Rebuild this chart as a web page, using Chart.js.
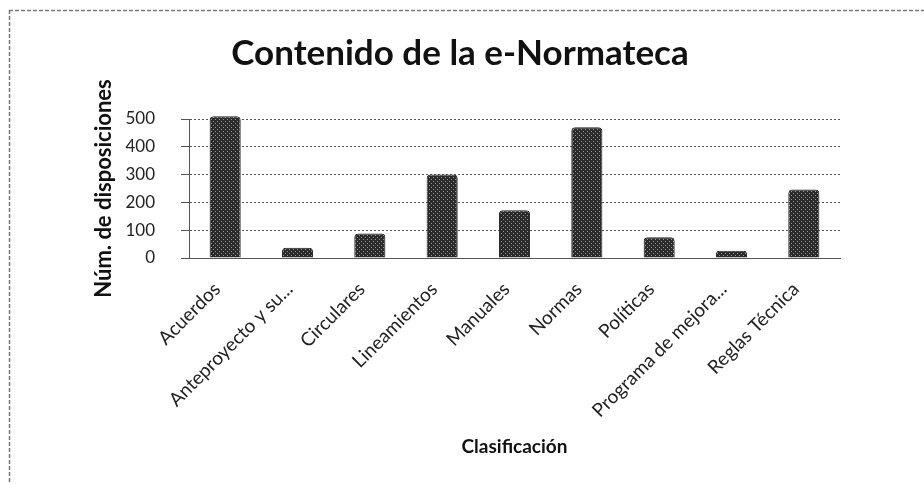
<!DOCTYPE html>
<html>
<head>
<meta charset="utf-8">
<script src="https://cdn.jsdelivr.net/npm/chart.js@4.4.1/dist/chart.umd.min.js"></script>
<style>
  body { margin: 0; background: #fff; }
  #wrap { position: relative; width: 924px; height: 484px; }
</style>
</head>
<body>
<div id="wrap"><canvas id="myChart"></canvas></div>
<script>
// data
const categories = ['Acuerdos', 'Anteproyecto y su...', 'Circulares', 'Lineamientos', 'Manuales',
    'Normas', 'Políticas', 'Programa de mejora...', 'Reglas Técnica'];
const disposiciones = [510, 37, 88, 300, 172, 470, 75, 26, 246];
const yTicks = [0, 100, 200, 300, 400, 500];

// dithered dark fill, like the printed bars
function makePattern() {
    const p = document.createElement('canvas');
    p.width = 4; p.height = 4;
    const c = p.getContext('2d');
    c.fillStyle = '#2a2a2a';
    c.fillRect(0, 0, 4, 4);
    c.fillStyle = '#9a9a9a';
    c.fillRect(1, 1, 1, 1);
    c.fillRect(3, 3, 1, 1);
    return c.createPattern(p, 'repeat');
}

// dashed frame at top/left of the picture
const framePlugin = {
    id: 'frame',
    beforeDraw(chart) {
        const ctx = chart.ctx;
        ctx.save();
        ctx.strokeStyle = '#777';
        ctx.lineWidth = 1.5;
        ctx.setLineDash([4, 2]);
        ctx.beginPath();
        ctx.moveTo(9, 10.5);
        ctx.lineTo(924, 10.5);
        ctx.moveTo(9.5, 10);
        ctx.lineTo(9.5, 484);
        ctx.stroke();
        ctx.restore();
    }
};

const ctx = document.getElementById('myChart').getContext('2d');

const myChart = new Chart(ctx, {
    type: 'bar',
    data: {
        labels: categories,
        datasets: [{
            label: 'Núm. de disposiciones',
            data: disposiciones,
            backgroundColor: makePattern(),
            borderColor: '#222',
            borderWidth: 1,
            borderRadius: 4,
            barPercentage: 0.86,
            categoryPercentage: 0.5,
            clip: false
        }]
    },
    options: {
        responsive: true,
        maintainAspectRatio: false,
        animation: false,
        layout: { padding: { left: 80, right: 84, top: 14, bottom: 10 } },
        plugins: {
            legend: { display: false },
            tooltip: { enabled: false },
            title: {
                display: true,
                text: 'Contenido de la e-Normateca',
                color: '#111',
                font: { family: 'Lato', size: 35, weight: 'bold' },
                padding: { top: 19, bottom: 44 }
            }
        },
        scales: {
            x: {
                afterFit: (scale) => { scale.height = 216; },
                grid: { display: false, drawTicks: false },
                border: { color: '#555', dash: [2, 2] },
                ticks: {
                    color: '#222',
                    font: { family: 'Lato', size: 19 },
                    maxRotation: 45,
                    minRotation: 45,
                    autoSkip: false,
                    labelOffset: -8,
                    padding: 20
                },
                title: {
                    display: true,
                    text: 'Clasificación',
                    color: '#111',
                    font: { family: 'Lato', size: 19, weight: 'bold' },
                    padding: { top: 10, bottom: 16 }
                }
            },
            y: {
                min: 0,
                max: 500,
                afterBuildTicks: (axis) => { axis.ticks = yTicks.map(v => ({ value: v })); },
                afterFit: (scale) => { scale.width = 109; },
                grid: { color: '#555', borderDash: [2, 2], tickLength: 8 },
                border: { color: '#555', dash: [2, 2] },
                ticks: {
                    color: '#222',
                    font: { family: 'Lato', size: 17 },
                    padding: 26
                },
                title: {
                    display: true,
                    text: 'Núm. de disposiciones',
                    color: '#111',
                    font: { family: 'Lato', size: 22, weight: 'bold' },
                    padding: { top: 11, bottom: 8 }
                }
            }
        }
    },
    plugins: [framePlugin]
});
</script>
</body>
</html>
